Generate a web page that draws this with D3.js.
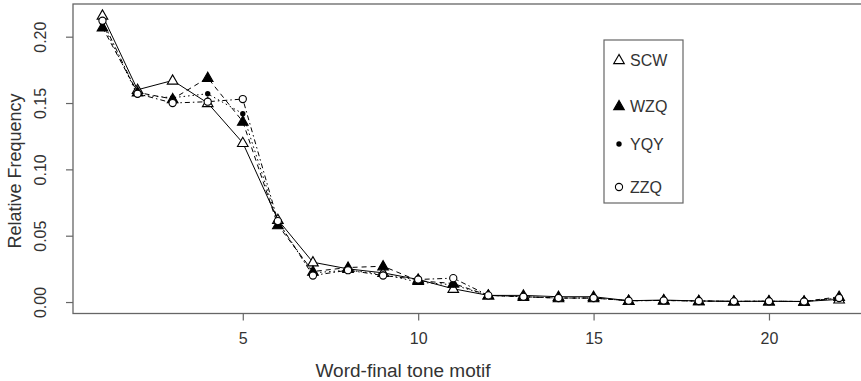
<!DOCTYPE html>
<html>
<head>
<meta charset="utf-8">
<script src="https://cdn.jsdelivr.net/npm/d3@7"></script>
<style>
  html, body { margin: 0; padding: 0; background: #fff; }
  svg { display: block; font-family: "Liberation Sans", Arial, sans-serif; }
</style>
</head>
<body>
<svg id="chart" width="861" height="381"></svg>
<script>
// Tone motif index (x) and relative frequencies per speaker
const motifs = [1,2,3,4,5,6,7,8,9,10,11,12,13,14,15,16,17,18,19,20,21,22];
const scw = [0.216,0.160,0.167,0.150,0.120,0.062,0.030,0.025,0.022,0.017,0.010,0.005,0.005,0.004,0.004,0.001,0.0015,0.0008,0.0005,0.0006,0.0004,0.002];
const wzq = [0.207,0.158,0.153,0.169,0.136,0.058,0.023,0.026,0.027,0.016,0.014,0.005,0.004,0.003,0.003,0.001,0.0012,0.0008,0.0005,0.0006,0.0004,0.004];
const yqy = [0.210,0.156,0.154,0.157,0.142,0.060,0.022,0.024,0.021,0.015,0.013,0.005,0.004,0.003,0.003,0.001,0.0012,0.0008,0.0005,0.0006,0.0004,0.003];
const zzq = [0.212,0.157,0.150,0.151,0.153,0.061,0.020,0.024,0.020,0.017,0.018,0.005,0.004,0.003,0.003,0.001,0.0012,0.0008,0.0005,0.0006,0.0004,0.003];
const speakers = ["SCW","WZQ","YQY","ZZQ"];
const xTicks = [5,10,15,20];
const yTicks = [0.00,0.05,0.10,0.15,0.20];
const xTitle = "Word-final tone motif";
const yTitle = "Relative Frequency";

const seriesValues = [scw, wzq, yqy, zzq];
const dashes = [null, "5,4", "1.5,3", "1.5,3,5,3"];
const markers = ["triOpen", "triFilled", "dot", "circOpen"];

const svg = d3.select("#chart");
const axisCol = "#666";
const textCol = "#333";

// R-style 4% padding on both axes
const xDom = [1 - 0.84, 22 + 0.84];
const yMax = 0.216;
const yDom = [0 - 0.04 * yMax, yMax * 1.04];

const x = d3.scaleLinear().domain(xDom).range([73, 868.6]);
const y = d3.scaleLinear().domain(yDom).range([313.5, 4]);

// plot frame (extends past the right edge)
svg.append("rect")
  .attr("x", x(xDom[0])).attr("y", y(yDom[1]))
  .attr("width", x(xDom[1]) - x(xDom[0]))
  .attr("height", y(yDom[0]) - y(yDom[1]))
  .attr("fill", "none").attr("stroke", axisCol).attr("stroke-width", 1.3);

// x axis
const xAxis = d3.axisBottom(x).tickValues(xTicks).tickSize(7).tickPadding(12).tickFormat(d3.format("d"));
const gx = svg.append("g").attr("transform", `translate(0,${y(yDom[0])})`).call(xAxis);
gx.select(".domain").remove();
gx.selectAll("line").attr("stroke", axisCol).attr("stroke-width", 1.2);
gx.selectAll("text").attr("fill", textCol).attr("font-size", 16);

// y axis with rotated labels
const yAxis = d3.axisLeft(y).tickValues(yTicks).tickSize(7).tickPadding(0).tickFormat(d3.format(".2f"));
const gy = svg.append("g").attr("transform", `translate(${x(xDom[0])},0)`).call(yAxis);
gy.select(".domain").remove();
gy.selectAll("line").attr("stroke", axisCol).attr("stroke-width", 1.2);
gy.selectAll("text")
  .attr("fill", textCol).attr("font-size", 16)
  .attr("x", null).attr("dy", null)
  .attr("text-anchor", "middle")
  .attr("transform", "translate(-27,0) rotate(-90)");

// axis titles
svg.append("text").attr("x", 403).attr("y", 377)
  .attr("text-anchor", "middle").attr("fill", textCol).attr("font-size", 18)
  .attr("textLength", 175).attr("lengthAdjust", "spacingAndGlyphs")
  .text(xTitle);
svg.append("text")
  .attr("transform", `translate(21,171) rotate(-90)`)
  .attr("text-anchor", "middle").attr("fill", textCol).attr("font-size", 18)
  .text(yTitle);

// marker drawing
function drawMarker(g, kind, cx, cy) {
  if (kind === "triOpen" || kind === "triFilled") {
    const s = 5.6;
    const pts = [[cx, cy - s], [cx - s * 0.95, cy + s * 0.65], [cx + s * 0.95, cy + s * 0.65]];
    g.append("polygon").attr("points", pts.map(p => p.join(",")).join(" "))
      .attr("fill", kind === "triFilled" ? "#000" : "#fff")
      .attr("stroke", "#000").attr("stroke-width", 1.1);
  } else if (kind === "dot") {
    g.append("circle").attr("cx", cx).attr("cy", cy).attr("r", 2.7).attr("fill", "#000");
  } else {
    g.append("circle").attr("cx", cx).attr("cy", cy).attr("r", 3.6)
      .attr("fill", "#fff").attr("stroke", "#000").attr("stroke-width", 1.1);
  }
}

const line = d3.line().x((d, i) => x(motifs[i])).y(d => y(d));

seriesValues.forEach((vals, k) => {
  svg.append("path").datum(vals).attr("d", line)
    .attr("fill", "none").attr("stroke", "#000").attr("stroke-width", 1)
    .attr("stroke-dasharray", dashes[k]);
});
seriesValues.forEach((vals, k) => {
  const g = svg.append("g");
  vals.forEach((v, i) => drawMarker(g, markers[k], x(motifs[i]), y(v)));
});

// legend
const leg = svg.append("g");
leg.append("rect").attr("x", 604).attr("y", 40).attr("width", 79).attr("height", 163)
  .attr("fill", "#fff").attr("stroke", axisCol).attr("stroke-width", 1.2);
const legY = [60, 106, 144, 187];
speakers.forEach((s, k) => {
  drawMarker(leg, markers[k], 619, legY[k]);
  leg.append("text").attr("x", 630).attr("y", legY[k] + 6)
    .attr("fill", textCol).attr("font-size", 16).text(s);
});
</script>
</body>
</html>
